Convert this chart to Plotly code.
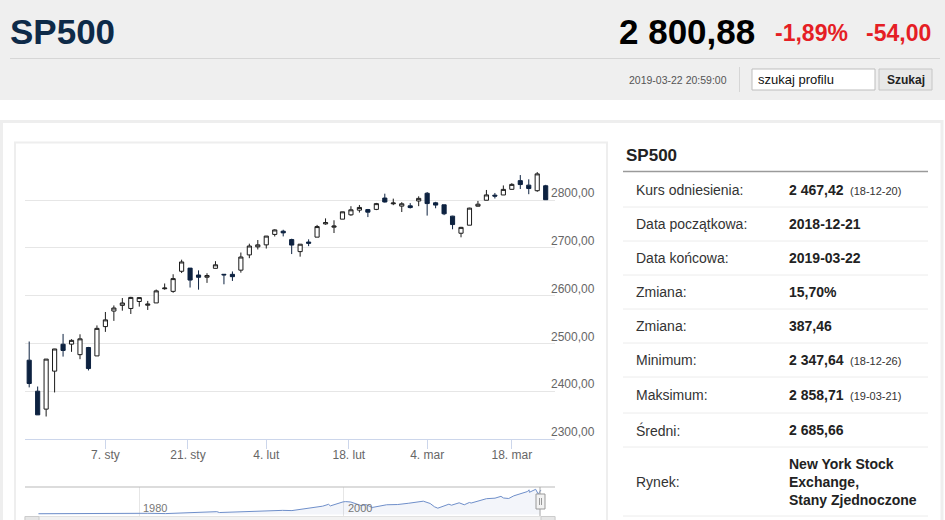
import numpy as np
import pandas as pd
import plotly.graph_objects as go

W, H = 945, 520
FONT = "Liberation Sans, Arial, sans-serif"
NAVY = "#0d2240"

# --- daily candles SP500 (ordinal axis, trading days only)
dates = ["2018-12-21", "2018-12-24", "2018-12-26", "2018-12-27", "2018-12-28", "2018-12-31",
         "2019-01-02", "2019-01-03", "2019-01-04", "2019-01-07", "2019-01-08", "2019-01-09",
         "2019-01-10", "2019-01-11", "2019-01-14", "2019-01-15", "2019-01-16", "2019-01-17",
         "2019-01-18", "2019-01-22", "2019-01-23", "2019-01-24", "2019-01-25", "2019-01-28",
         "2019-01-29", "2019-01-30", "2019-01-31", "2019-02-01", "2019-02-04", "2019-02-05",
         "2019-02-06", "2019-02-07", "2019-02-08", "2019-02-11", "2019-02-12", "2019-02-13",
         "2019-02-14", "2019-02-15", "2019-02-19", "2019-02-20", "2019-02-21", "2019-02-22",
         "2019-02-25", "2019-02-26", "2019-02-27", "2019-02-28", "2019-03-01", "2019-03-04",
         "2019-03-05", "2019-03-06", "2019-03-07", "2019-03-08", "2019-03-11", "2019-03-12",
         "2019-03-13", "2019-03-14", "2019-03-15", "2019-03-18", "2019-03-19", "2019-03-20",
         "2019-03-21", "2019-03-22"]
opens = [2465.38, 2400.56, 2363.12, 2442.50, 2498.77, 2498.94, 2476.96, 2491.92, 2474.33, 2535.61,
         2568.11, 2580.00, 2573.51, 2588.11, 2580.31, 2585.10, 2614.75, 2609.28, 2651.27, 2657.88,
         2643.48, 2638.84, 2657.44, 2644.97, 2644.89, 2653.62, 2685.49, 2702.32, 2706.49, 2728.34,
         2735.05, 2717.53, 2692.36, 2712.40, 2722.61, 2750.30, 2743.50, 2760.24, 2769.28, 2779.05,
         2780.24, 2780.67, 2804.35, 2792.36, 2787.50, 2788.11, 2798.22, 2814.37, 2794.41, 2790.27,
         2766.53, 2730.79, 2747.61, 2787.34, 2799.78, 2810.38, 2810.79, 2822.61, 2840.76, 2831.34,
         2819.72, 2830.00]
highs = [2504.41, 2410.34, 2467.76, 2489.10, 2520.27, 2509.24, 2519.49, 2493.14, 2538.07, 2566.16,
         2579.82, 2595.32, 2597.82, 2596.27, 2589.32, 2613.08, 2625.76, 2645.06, 2675.47, 2657.88,
         2653.19, 2647.20, 2672.38, 2644.97, 2650.93, 2690.44, 2708.95, 2716.66, 2724.99, 2738.98,
         2738.08, 2719.32, 2708.07, 2718.05, 2748.19, 2761.85, 2757.90, 2775.66, 2787.33, 2789.88,
         2781.58, 2794.20, 2813.49, 2803.12, 2795.76, 2793.73, 2808.02, 2816.88, 2796.44, 2790.27,
         2767.25, 2744.13, 2784.00, 2798.32, 2821.24, 2815.00, 2830.73, 2835.41, 2852.42, 2843.54,
         2858.71, 2832.00]
lows = [2408.55, 2351.10, 2347.64, 2397.94, 2472.89, 2482.82, 2467.47, 2443.96, 2474.33, 2524.56,
        2547.56, 2568.89, 2562.02, 2577.40, 2570.41, 2585.10, 2612.68, 2606.36, 2647.58, 2617.27,
        2612.86, 2627.01, 2657.33, 2624.06, 2631.05, 2648.34, 2678.65, 2696.88, 2698.75, 2724.03,
        2724.15, 2687.26, 2681.83, 2703.79, 2722.61, 2748.63, 2731.23, 2760.24, 2767.29, 2774.06,
        2764.55, 2779.11, 2794.99, 2789.47, 2775.13, 2782.51, 2787.38, 2767.66, 2782.97, 2768.69,
        2739.09, 2722.27, 2747.61, 2786.73, 2799.78, 2803.46, 2810.79, 2821.99, 2823.27, 2812.43,
        2817.38, 2800.47]
closes = [2416.62, 2351.10, 2467.70, 2488.83, 2485.74, 2506.85, 2510.03, 2447.89, 2531.94, 2549.69,
          2574.41, 2584.96, 2596.64, 2596.26, 2582.61, 2610.30, 2616.10, 2635.96, 2670.71, 2632.90,
          2638.70, 2642.33, 2664.76, 2643.85, 2640.00, 2681.05, 2704.10, 2706.53, 2724.87, 2737.70,
          2731.61, 2706.05, 2707.88, 2709.80, 2744.73, 2753.03, 2745.73, 2775.60, 2779.76, 2784.70,
          2774.88, 2792.67, 2796.11, 2793.90, 2792.38, 2784.49, 2803.69, 2792.81, 2789.65, 2771.45,
          2748.93, 2743.07, 2783.30, 2791.52, 2810.92, 2808.48, 2822.48, 2832.94, 2832.57, 2824.23,
          2854.88, 2800.88]

tick_dates = ["2019-01-07", "2019-01-21", "2019-02-04", "2019-02-18", "2019-03-04", "2019-03-18"]
tick_labels = ["7. sty", "21. sty", "4. lut", "18. lut", "4. mar", "18. mar"]
y_grid = [2300, 2400, 2500, 2600, 2700, 2800, 2900]
y_labels = [2300, 2400, 2500, 2600, 2700, 2800]

# --- navigator (long history)
nav_dates = ["1970-03-01", "1972-12-01", "1974-10-01", "1976-12-01", "1978-03-01", "1980-11-01",
             "1982-08-01", "1983-10-01", "1984-07-01", "1987-08-01", "1987-11-01", "1990-07-01",
             "1990-10-01", "1994-01-01", "1994-12-01", "1996-06-01", "1997-12-01", "1998-07-01",
             "1998-09-01", "1999-12-01", "2000-03-01", "2000-09-01", "2001-09-01", "2002-03-01",
             "2002-10-01", "2004-03-01", "2005-04-01", "2006-05-01", "2007-10-01", "2008-06-01",
             "2008-11-01", "2009-03-01", "2010-04-01", "2010-07-01", "2011-04-01", "2011-10-01",
             "2012-04-01", "2012-06-01", "2013-12-01", "2014-10-01", "2015-05-01", "2015-08-01",
             "2016-02-01", "2016-08-01", "2017-12-01", "2018-01-26", "2018-02-08", "2018-09-20",
             "2018-12-24", "2019-03-21", "2019-03-22"]
nav_values = [90, 118, 70, 107, 89, 140, 107, 170, 150, 330, 230, 360, 305, 480, 455, 670, 970, 1186,
              1000, 1469, 1500, 1450, 1040, 1150, 815, 1130, 1160, 1310, 1549, 1280, 900, 735, 1200,
              1080, 1360, 1130, 1400, 1330, 1840, 1900, 2110, 1920, 1860, 2170, 2670, 2870, 2580,
              2930, 2351, 2854, 2800]
nav_ticks = ["1980-01-01", "2000-01-01"]
nav_labels = ["1980", "2000"]

# --- side table
table_labels = ["Kurs odniesienia:", "Data początkowa:", "Data końcowa:", "Zmiana:", "Zmiana:",
                "Minimum:", "Maksimum:", "Średni:", "Rynek:"]
table_values = ["2 467,42", "2018-12-21", "2019-03-22", "15,70%", "387,46", "2 347,64",
                "2 858,71", "2 685,66", "New York Stock<br>Exchange,<br>Stany Zjednoczone"]
table_notes = ["(18-12-20)", "", "", "", "", "(18-12-26)", "(19-03-21)", "", ""]


def px(x):
    return x / W


def py(y):
    return 1 - y / H


# ordinal positions of candles and ticks
t_days = pd.to_datetime(dates).values.astype("datetime64[D]").astype(float)
xpos = np.arange(len(dates))
t_ticks = pd.to_datetime(tick_dates).values.astype("datetime64[D]").astype(float)
tick_pos = np.interp(t_ticks, t_days, xpos)

fig = go.Figure()

fig.add_trace(go.Candlestick(
    x=xpos, open=opens, high=highs, low=lows, close=closes,
    increasing=dict(fillcolor="white", line=dict(color="#1b1b1b", width=1)),
    decreasing=dict(fillcolor=NAVY, line=dict(color=NAVY, width=1)),
    whiskerwidth=0, hoverinfo="skip", showlegend=False,
    xaxis="x", yaxis="y"))

fig.add_trace(go.Scatter(
    x=nav_dates, y=nav_values, mode="lines", fill="tozeroy",
    line=dict(color="#6f8fca", width=1), fillcolor="rgba(51,92,173,0.06)",
    hoverinfo="skip", showlegend=False, xaxis="x2", yaxis="y2"))

shapes = []
annotations = []


def rect(x0, y0, x1, y1, fill=None, line=None, lw=1, layer="below"):
    shapes.append(dict(type="rect", xref="paper", yref="paper",
                       x0=px(x0), y0=py(y0), x1=px(x1), y1=py(y1),
                       fillcolor=fill if fill else "rgba(0,0,0,0)",
                       line=dict(color=line if line else "rgba(0,0,0,0)", width=lw if line else 0),
                       layer=layer))


def hline(x0, x1, y, color, lw=1, layer="below"):
    shapes.append(dict(type="line", xref="paper", yref="paper",
                       x0=px(x0), x1=px(x1), y0=py(y), y1=py(y),
                       line=dict(color=color, width=lw), layer=layer))


def vline(x, y0, y1, color, lw=1, layer="below"):
    shapes.append(dict(type="line", xref="paper", yref="paper",
                       x0=px(x), x1=px(x), y0=py(y0), y1=py(y1),
                       line=dict(color=color, width=lw), layer=layer))


def text(x, y, s, size=14, color="#333", anchor="left", family=FONT, align="left"):
    annotations.append(dict(xref="paper", yref="paper", x=px(x), y=py(y), text=s,
                            showarrow=False, xanchor=anchor, yanchor="middle", align=align,
                            font=dict(size=size, color=color, family=family)))


# header
rect(0, 0, W, 100, fill="#efefef")
hline(10, 940, 58.5, "#d6d6d6")
text(8, 31, "<b>SP500</b>", size=35, color="#0e2a48")
text(757, 31, "<b>2 800,88</b>", size=35, color="#000", anchor="right")
text(773, 33, "<b>-1,89%</b>", size=23, color="#e51e25")
text(933, 33, "<b>-54,00</b>", size=23, color="#e51e25", anchor="right")
text(729, 80, "2019-03-22 20:59:00", size=10.5, color="#555", anchor="right")
vline(739.5, 67, 92, "#d6d6d6")
rect(752, 69, 875, 90, fill="white", line="#bdbdbd")
text(756, 79.5, "szukaj profilu", size=13, color="#111")
rect(879, 69, 932, 90, fill="#e8e8e8", line="#c6c6c6")
text(905.5, 79.5, "<b>Szukaj</b>", size=12, color="#222", anchor="center")

# content boxes
rect(1.5, 121.5, 942, 560, line="#eeeeee", lw=3)
rect(15, 142.5, 607, 560, line="#eeeeee", lw=2)

# navigator decorations
hline(25, 555, 487, "#b9b9b9", layer="above")
vline(540, 487, 516, "#a9a9a9", layer="above")
rect(536, 494, 545, 509, fill="#f2f2f2", line="#999999", layer="above")
vline(539.5, 498, 505, "#999999", layer="above")
vline(541.5, 498, 505, "#999999", layer="above")
rect(25, 516.5, 555, 530, fill="#f2f2f2", line="#e2e2e2", layer="above")
rect(25, 516.5, 39, 530, fill="#e6e6e6", line="#cccccc", layer="above")
rect(541, 516.5, 555, 530, fill="#e6e6e6", line="#cccccc", layer="above")
for d, lab in zip(nav_ticks, nav_labels):
    annotations.append(dict(xref="x2", yref="paper", x=d, y=py(508), text=lab, showarrow=False,
                            xanchor="left", yanchor="middle", xshift=2,
                            font=dict(size=11, color="#777", family=FONT)))

# y labels of the candle chart (the top grid line has no label)
for v in y_labels:
    annotations.append(dict(xref="paper", yref="y", x=px(549), y=v,
                            text=f"{v:.2f}".replace(".", ","), showarrow=False,
                            xanchor="left", yanchor="middle", yshift=7,
                            font=dict(size=12, color="#666", family=FONT)))

# side table
text(624, 155, "<b>SP500</b>", size=17, color="#222")
hline(623, 928, 171.5, "#9a9a9a", lw=1.5)
row_y = [190, 224, 258, 292, 326, 360, 395, 430, 482]
row_sep = [207, 241, 275, 309, 343, 377, 413, 447, 516]
for lab, val, note, yy in zip(table_labels, table_values, table_notes, row_y):
    text(634, yy, lab, size=14, color="#333")
    text(787, yy, "<b>" + val + "</b>", size=14, color="#222")
    if note:
        text(848, yy + 1, note, size=11, color="#333")
for yy in row_sep:
    hline(623, 928, yy, "#ececec")

fig.update_layout(
    width=W, height=H, margin=dict(l=0, r=0, t=0, b=0),
    paper_bgcolor="white", plot_bgcolor="rgba(0,0,0,0)",
    font=dict(family=FONT), separators=", ",
    showlegend=False, hovermode=False,
    xaxis=dict(domain=[px(25), px(555)], range=[-0.496, 62.1],
               tickvals=tick_pos, ticktext=tick_labels,
               showgrid=False, zeroline=False, showline=True, linecolor="#ccd6eb", linewidth=1,
               ticks="outside", ticklen=9, tickcolor="#ccd6eb", ticklabelstandoff=-5,
               tickfont=dict(size=12, color="#666"), rangeslider=dict(visible=False),
               fixedrange=True, anchor="y"),
    yaxis=dict(domain=[py(439.3), py(152.3)], range=[2300, 2900], tickvals=y_grid,
               showticklabels=False, showgrid=True, gridcolor="#e6e6e6", gridwidth=1,
               zeroline=False, fixedrange=True, anchor="x"),
    xaxis2=dict(domain=[px(25), px(555)], type="date", range=["1968-11-06", "2020-08-10"],
                tickvals=nav_ticks, showticklabels=False, showgrid=True, gridcolor="#e6e6e6",
                zeroline=False, showline=False, anchor="y2"),
    yaxis2=dict(domain=[py(516), py(487)], range=[-175, 3198], visible=False,
                showgrid=False, zeroline=False, anchor="x2"),
    shapes=shapes, annotations=annotations,
)

fig.write_html("out.html", config={"displayModeBar": False},
               post_script="document.body.style.margin='0';")
